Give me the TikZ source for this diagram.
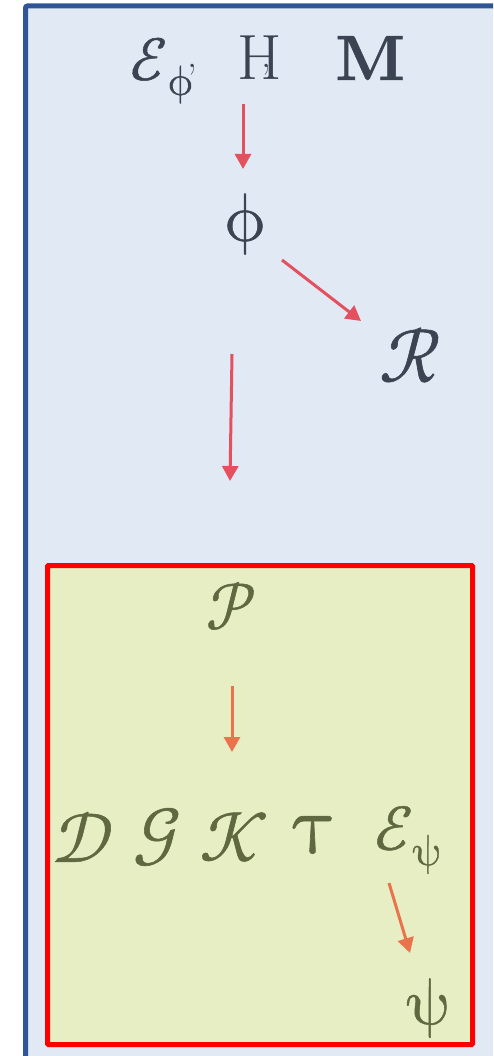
\documentclass[tikz,border=0pt]{standalone}
\usepackage{unicode-math}
\setmathfont{Latin Modern Math}[FakeBold=0.8]
\usetikzlibrary{arrows.meta, calc}
\definecolor{frameblue}{HTML}{2F5597}
\definecolor{paleblue}{HTML}{E1E9F4}
\definecolor{boxred}{HTML}{FF0000}
\definecolor{palelime}{HTML}{E7EEC4}
\definecolor{inkgray}{HTML}{3B4452}
\definecolor{inkolive}{HTML}{5F6840}
\definecolor{arrred}{HTML}{E5505F}
\definecolor{arrorange}{HTML}{E9734A}

\begin{document}
\begin{tikzpicture}[
  x=1pt, y=-1pt,
  >={Triangle[length=15pt, width=16pt]},
  sym/.style={inner sep=0pt, text=inkgray, font=\fontsize{#1}{#1}\selectfont},
  insym/.style={inner sep=0pt, text=inkolive, font=\fontsize{#1}{#1}\selectfont},
  arr/.style={->, line width=3pt, color=#1},
]

% Canvas
\useasboundingbox (0,0) rectangle (493,1056);
\clip (0,0) rectangle (493,1056);

% Outer panel
\fill[paleblue] (25.5,6) rectangle (520,1080);
\draw[frameblue, line width=5pt, rounded corners=2pt] (25.5,1080) -- (25.5,6) -- (520,6);

% Inner box
\draw[boxred, fill=palelime, line width=5pt, rounded corners=1pt]
  (47.5,565.5) rectangle (472.5,1044.5);

% =============================================
% TOP: inputs
% =============================================
\node[sym=60, anchor=base west] (Ephi) at (130,80)
  {$\mathcal{E}_{\upphi}$\kern-7pt\raisebox{12pt}{\fontsize{40}{40}\selectfont,}};
\node[sym=64, anchor=base west] (H) at (237,80)
  {H\kern-20pt\raisebox{12pt}{\fontsize{40}{40}\selectfont,}\kern9pt};
\node[sym=64, anchor=base west] (M) at (335,80) {$\symbf{M}$};

% Middle
\node[sym=68] (phi) at (245,224) {$\upphi$};
\node[sym=76] (R) at (410,355) {$\mathcal{R}$};
\coordinate (drop) at (230,481);

% Arrows
\draw[arr=arrred] ($(phi.center |- H.south)+(-2,24)$) -- ([xshift=-2pt, yshift=55pt]phi.center);
\draw[arr=arrred] ([xshift=37pt, yshift=-36pt]phi.center) -- ([xshift=-49pt, yshift=34pt]R.center);
\draw[arr=arrred] ([xshift=-13pt, yshift=-130pt]phi.center) -- (drop);

% =============================================
% INNER BOX
% =============================================
\node[insym=66] (P) at (231,606) {$\mathcal{P}$};

\node[insym=70] (D) at (83,837) {$\mathcal{D}$};
\node[insym=70] (G) at (157,837) {$\mathcal{G}$};
\node[insym=70] (K) at (234,837) {$\mathcal{K}$};
\node[insym=85] (tau) at (315,835) {$\uptau$};
\node[insym=62] (Epsi) at (408,840) {$\mathcal{E}_{\uppsi}$};

\node[insym=66] (psi) at (428,1008) {$\uppsi$};

% Arrows
\draw[arr=arrorange] ([xshift=1pt, yshift=-80pt]P.center) -- ([xshift=-2pt, yshift=85pt]K.center);
\draw[arr=arrorange] ([xshift=-19pt, yshift=-43pt]Epsi.center) -- ([xshift=-18pt, yshift=55pt]psi.center);

\end{tikzpicture}
\end{document}
